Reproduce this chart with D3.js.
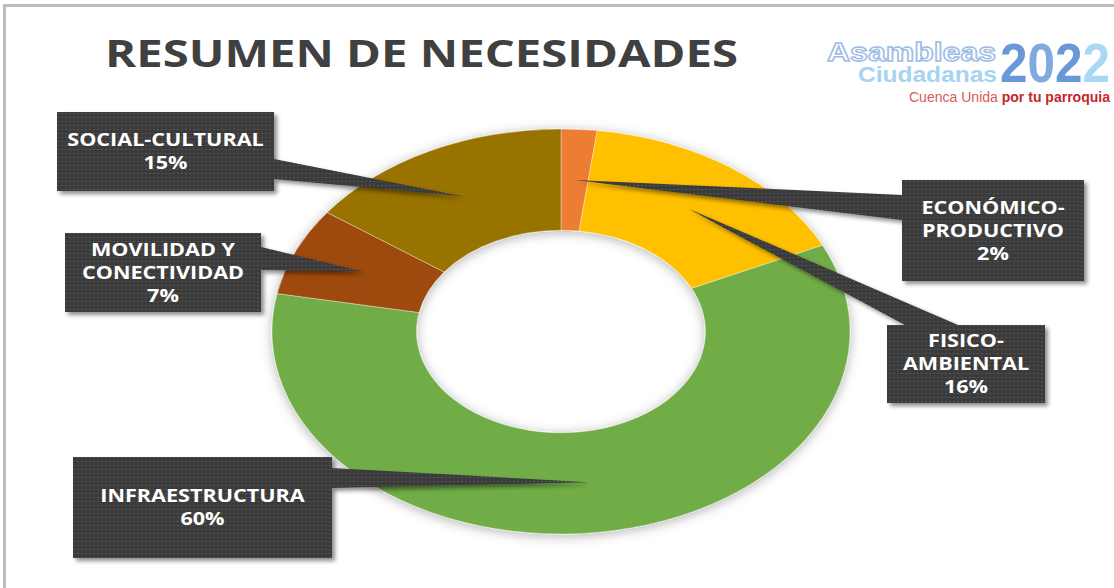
<!DOCTYPE html>
<html>
<head>
<meta charset="utf-8">
<script src="https://cdn.jsdelivr.net/npm/d3@7"></script>
<style>
body { margin: 0; background: #fff; }
svg { display: block; }
</style>
</head>
<body>
<svg id="chart" width="1114" height="588"></svg>
<script>
// data, clockwise from 12 o'clock
var categories = ["ECONÓMICO-PRODUCTIVO", "FISICO-AMBIENTAL", "INFRAESTRUCTURA", "MOVILIDAD Y CONECTIVIDAD", "SOCIAL-CULTURAL"];
var values = [2, 16, 60, 7, 15];
var labelLines = [["ECONÓMICO-", "PRODUCTIVO"], ["FISICO-", "AMBIENTAL"], ["INFRAESTRUCTURA"], ["MOVILIDAD Y", "CONECTIVIDAD"], ["SOCIAL-CULTURAL"]];
var colors = ["#ED7D31", "#FFC000", "#70AD47", "#9E480E", "#997300"];

var titleText = "RESUMEN DE NECESIDADES";
var yearDigits = ["2", "0", "2", "2"];
var yearColors = ["#6a98d6", "#7faade", "#6a98d6", "#a9d8f5"];

var svg = d3.select("#chart");
var defs = svg.append("defs");

// dotted texture of the label boxes
var pat = defs.append("pattern")
    .attr("id", "dots")
    .attr("width", 4).attr("height", 4)
    .attr("patternUnits", "userSpaceOnUse");
pat.append("rect").attr("width", 4).attr("height", 4).attr("fill", "#3a3a3a");
pat.append("rect").attr("x", 1).attr("y", 1).attr("width", 2).attr("height", 1).attr("fill", "#555");

var ringShadow = defs.append("filter").attr("id", "ringShadow")
    .attr("x", "-20%").attr("y", "-20%").attr("width", "140%").attr("height", "140%");
ringShadow.append("feDropShadow").attr("dx", 0).attr("dy", 2)
    .attr("stdDeviation", 6).attr("flood-color", "#000").attr("flood-opacity", 0.3);

var boxShadow = defs.append("filter").attr("id", "boxShadow")
    .attr("x", "-20%").attr("y", "-20%").attr("width", "140%").attr("height", "140%");
boxShadow.append("feDropShadow").attr("dx", 3).attr("dy", 3)
    .attr("stdDeviation", 2).attr("flood-color", "#000").attr("flood-opacity", 0.45);

// frame lines (top and left)
svg.append("rect").attr("x", 3).attr("y", 4).attr("width", 1111).attr("height", 3).attr("fill", "#bdbdbd");
svg.append("rect").attr("x", 3).attr("y", 4).attr("width", 3).attr("height", 584).attr("fill", "#bdbdbd");

// title
svg.append("text")
    .attr("x", 105).attr("y", 67)
    .attr("textLength", 633).attr("lengthAdjust", "spacingAndGlyphs")
    .style("font-family", "'Open Sans', sans-serif")
    .style("font-weight", 700)
    .style("font-size", "38px")
    .attr("fill", "#404040")
    .text(titleText);

// logo
var logo = svg.append("g").style("font-family", "'Liberation Sans', Arial, sans-serif");
logo.append("text")
    .attr("x", 827).attr("y", 61)
    .attr("textLength", 169).attr("lengthAdjust", "spacingAndGlyphs")
    .style("font-size", "26px").style("font-weight", 700)
    .attr("fill", "#fff").attr("stroke", "#9dbde6").attr("stroke-width", 1.4)
    .text("Asambleas");
logo.append("text")
    .attr("x", 858).attr("y", 82)
    .attr("textLength", 139).attr("lengthAdjust", "spacingAndGlyphs")
    .style("font-size", "22px").style("font-weight", 700)
    .attr("fill", "#a5d4f1")
    .text("Ciudadanas");
var digitX = d3.scaleBand().domain(d3.range(yearDigits.length)).range([1000, 1110]);
logo.selectAll("text.year")
    .data(yearDigits)
    .enter()
    .append("text")
    .attr("class", "year")
    .attr("x", function(d, i) { return digitX(i); })
    .attr("y", 82)
    .attr("textLength", digitX.bandwidth()).attr("lengthAdjust", "spacingAndGlyphs")
    .style("font-size", "56px").style("font-weight", 700)
    .attr("fill", function(d, i) { return yearColors[i]; })
    .text(function(d) { return d; });
var tag = logo.append("text")
    .attr("x", 909).attr("y", 102)
    .attr("textLength", 201).attr("lengthAdjust", "spacingAndGlyphs")
    .style("font-size", "14px");
tag.append("tspan").attr("fill", "#d8595b").text("Cuenca Unida ");
tag.append("tspan").attr("fill", "#c4262e").style("font-weight", 700).text("por tu parroquia");

// donut, drawn as a circle and stretched sideways like the original
var cx = 561, cy = 331.5, ry = 202.5, rx = 289;
var sx = rx / ry;

var color = d3.scaleOrdinal(categories, colors);
var pie = d3.pie().sort(null).value(function(d) { return d.value; });
var arc = d3.arc().innerRadius(ry * 0.5).outerRadius(ry);

var data = categories.map(function(c, i) {
    return { name: c, value: values[i], lines: labelLines[i] };
});
var arcs = pie(data);

var ring = svg.append("g")
    .attr("filter", "url(#ringShadow)")
    .append("g")
    .attr("transform", "translate(" + cx + "," + cy + ") scale(" + sx + ",1)");

ring.selectAll("path")
    .data(arcs)
    .enter()
    .append("path")
    .attr("d", arc)
    .attr("fill", function(d) { return color(d.data.name); })
    .attr("stroke", "#fff")
    .attr("stroke-opacity", 0.6)
    .attr("stroke-width", 0.6)
    .attr("vector-effect", "non-scaling-stroke");

// callout boxes: [x0, y0, x1, y1], the edge the wedge leaves from, and where it leaves
var callouts = [
    { box: [902, 180, 1084, 281], side: "left", base: [195, 220] },
    { box: [887, 325, 1045, 403], side: "top", base: [905, 958] },
    { box: [73, 457, 332, 558], side: "right", base: [468, 488] },
    { box: [65, 233, 261, 312], side: "right", base: [247, 270] },
    { box: [57, 112, 274, 191], side: "right", base: [159, 179] }
];

function calloutPath(c, tip) {
    var x0 = c.box[0], y0 = c.box[1], x1 = c.box[2], y1 = c.box[3], b = c.base;
    var p = [[x0, y0]];
    if (c.side == "top") p.push([b[0], y0], tip, [b[1], y0]);
    p.push([x1, y0]);
    if (c.side == "right") p.push([x1, b[0]], tip, [x1, b[1]]);
    p.push([x1, y1], [x0, y1]);
    if (c.side == "left") p.push([x0, b[1]], tip, [x0, b[0]]);
    return d3.line()(p) + "Z";
}

var lineH = 23;
var labels = svg.append("g");

arcs.forEach(function(d, i) {
    var c = callouts[i];
    var cen = arc.centroid(d);
    var tip = [cx + cen[0] * sx, cy + cen[1]];

    labels.append("path")
        .attr("d", calloutPath(c, tip))
        .attr("fill", "url(#dots)")
        .attr("filter", "url(#boxShadow)");

    var lines = d.data.lines.concat([d.data.value + "%"]);
    var mx = (c.box[0] + c.box[2]) / 2;
    var my = (c.box[1] + c.box[3]) / 2;
    var first = my - (lines.length - 1) * lineH / 2 + 6.5;

    // the original labels are stretched sideways with the chart
    var t = labels.append("text")
        .attr("transform", "translate(" + mx + ",0) scale(1.2,1)")
        .attr("text-anchor", "middle")
        .style("font-family", "'Open Sans', sans-serif")
        .style("font-weight", 700)
        .style("font-size", "18px")
        .attr("fill", "#fff");
    lines.forEach(function(l, j) {
        t.append("tspan").attr("x", 0).attr("y", first + j * lineH).text(l);
    });
});
</script>
</body>
</html>
